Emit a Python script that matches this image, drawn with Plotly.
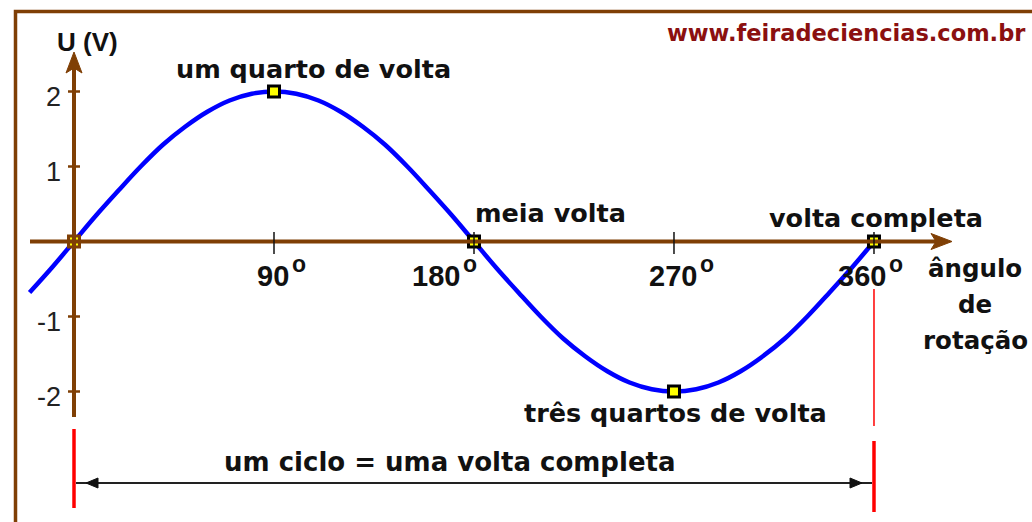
import plotly.graph_objects as go

# ---- data ----
angles = [-20, -10, 0, 10, 20, 30, 40, 50, 60, 70, 80, 90, 100, 110, 120, 130, 140, 150, 160,
          170, 180, 190, 200, 210, 220, 230, 240, 250, 260, 270, 280, 290, 300, 310, 320, 330,
          340, 350, 360]
voltage = [-0.68, -0.35, 0.0, 0.35, 0.68, 1.0, 1.29, 1.53, 1.73, 1.88, 1.97, 2.0, 1.97, 1.88,
           1.73, 1.53, 1.29, 1.0, 0.68, 0.35, 0.0, -0.35, -0.68, -1.0, -1.29, -1.53, -1.73,
           -1.88, -1.97, -2.0, -1.97, -1.88, -1.73, -1.53, -1.29, -1.0, -0.68, -0.35, 0.0]
key_angles = [0, 90, 180, 270, 360]
key_volts = [0, 2, 0, -2, 0]
key_labels = ["", "um quarto de volta", "meia volta", "três quartos de volta", "volta completa"]
x_ticks = [90, 180, 270, 360]
x_tick_labels = ["90", "180", "270", "360"]
y_ticks = [2, 1, -1, -2]
y_tick_labels = ["2", "1", "-1", "-2"]

W, H = 1032, 522
X0PX, PXDEG = 74.0, 2.2222
Y0PX, PXV = 241.5, 75.0


def X(px):
    return (px - X0PX) / PXDEG


def Y(py):
    return (Y0PX - py) / PXV


BROWN = "#7f3f05"
BLUE = "#0000ff"
RED = "#ff0000"
TXT = "#111111"
TFONT = "DejaVu Sans"
NFONT = "Liberation Sans"

fig = go.Figure()

# sine curve
fig.add_trace(go.Scatter(x=angles, y=voltage, mode="lines", line=dict(color=BLUE, width=4.5, shape="spline"),
                         hoverinfo="skip", showlegend=False))
# key point markers
fig.add_trace(go.Scatter(x=key_angles, y=key_volts, mode="markers",
                         marker=dict(symbol="square", size=11, color="#ffff00",
                                     line=dict(color=["#7f3f05", "#000000", "#000000", "#000000", "#000000"], width=3)),
                         hoverinfo="skip", showlegend=False))

shapes = []
# border
shapes.append(dict(type="rect", xref="x", yref="y", x0=X(15.5), x1=X(1050), y0=Y(11.5), y1=Y(540),
                   line=dict(color=BROWN, width=3.5)))
# x axis
shapes.append(dict(type="line", xref="x", yref="y", x0=X(30), x1=X(940), y0=0, y1=0,
                   line=dict(color=BROWN, width=4)))
shapes.append(dict(type="path", xref="x", yref="y",
                   path=f"M {X(952)},{Y(241.5)} L {X(931)},{Y(233.5)} L {X(936)},{Y(241.5)} L {X(931)},{Y(249.5)} Z",
                   fillcolor=BROWN, line=dict(color=BROWN, width=1)))
# y axis
shapes.append(dict(type="line", xref="x", yref="y", x0=0, x1=0, y0=Y(417), y1=Y(64),
                   line=dict(color=BROWN, width=4)))
shapes.append(dict(type="path", xref="x", yref="y",
                   path=f"M {X(74)},{Y(52)} L {X(66)},{Y(73)} L {X(74)},{Y(68)} L {X(82)},{Y(73)} Z",
                   fillcolor=BROWN, line=dict(color=BROWN, width=1)))
# y ticks
for v in y_ticks:
    shapes.append(dict(type="line", xref="x", yref="y", x0=X(68), x1=X(80), y0=v, y1=v,
                       line=dict(color=BROWN, width=2.5)))
# x ticks
for a in x_ticks:
    shapes.append(dict(type="line", xref="x", yref="y", x0=a, x1=a, y0=Y(232), y1=Y(254),
                       line=dict(color="#111111", width=1.5)))
# red cycle markers
shapes.append(dict(type="line", xref="x", yref="y", x0=0, x1=0, y0=Y(429), y1=Y(508),
                   line=dict(color=RED, width=3.5)))
shapes.append(dict(type="line", xref="x", yref="y", x0=360, x1=360, y0=Y(441), y1=Y(512),
                   line=dict(color=RED, width=3.5)))
shapes.append(dict(type="line", xref="x", yref="y", x0=360, x1=360, y0=Y(289), y1=Y(426),
                   line=dict(color=RED, width=1.5)))
# black double arrow
shapes.append(dict(type="line", xref="x", yref="y", x0=X(76), x1=X(872), y0=Y(483), y1=Y(483),
                   line=dict(color="#222222", width=2)))
shapes.append(dict(type="path", xref="x", yref="y",
                   path=f"M {X(86)},{Y(483)} L {X(98)},{Y(478)} L {X(98)},{Y(488)} Z",
                   fillcolor="#111111", line=dict(color="#111111", width=1)))
shapes.append(dict(type="path", xref="x", yref="y",
                   path=f"M {X(862)},{Y(483)} L {X(850)},{Y(478)} L {X(850)},{Y(488)} Z",
                   fillcolor="#111111", line=dict(color="#111111", width=1)))

ann = []


def add_text(text, px, py, size, family=TFONT, color=TXT, xanchor="center", bold=True):
    t = f"<b>{text}</b>" if bold else text
    ann.append(dict(text=t, x=X(px), y=Y(py), xref="x", yref="y", showarrow=False,
                    xanchor=xanchor, yanchor="middle",
                    font=dict(family=family, size=size, color=color)))


# key point labels
label_pos = {1: (313, 69), 2: (550, 213), 3: (675, 413), 4: (876, 218)}
for i, lab in enumerate(key_labels):
    if lab:
        px, py = label_pos[i]
        add_text(lab, px, py, 25.5)

# x tick labels (number + superscript o)
num_right = {90: 291, 180: 462, 270: 699, 360: 888}
for a, lab in zip(x_ticks, x_tick_labels):
    r = num_right[a]
    ann.append(dict(text=f"<b>{lab}</b>", x=X(r), y=Y(276), xref="x", yref="y", showarrow=False,
                    xanchor="right", yanchor="middle", font=dict(family=NFONT, size=29, color=TXT)))
    ann.append(dict(text="<b>o</b>", x=X(r - 1), y=Y(264), xref="x", yref="y", showarrow=False,
                    xanchor="left", yanchor="middle", font=dict(family=NFONT, size=23, color=TXT)))

# y tick labels
for v, lab in zip(y_ticks, y_tick_labels):
    ann.append(dict(text=lab, x=X(63), y=v, yshift=-5, xref="x", yref="y", showarrow=False,
                    xanchor="right", yanchor="middle", font=dict(family=NFONT, size=27, color="#222222")))

# axis titles
add_text("U (V)", 87, 42, 26, family=NFONT)
add_text("ângulo", 975, 268, 24.5)
add_text("de", 975, 304, 24.5)
add_text("rotação", 975, 340, 24.5)

# other texts
add_text("um ciclo = uma volta completa", 450, 462, 26)
add_text("www.feiradeciencias.com.br", 665, 33, 22.5, color="#8b1010", xanchor="left")

fig.update_layout(
    width=W, height=H, autosize=False,
    margin=dict(l=0, r=0, t=0, b=0),
    paper_bgcolor="white", plot_bgcolor="white",
    xaxis=dict(range=[X(0), X(W)], visible=False, fixedrange=True),
    yaxis=dict(range=[Y(H), Y(0)], visible=False, fixedrange=True),
    shapes=shapes, annotations=ann, showlegend=False,
)

fig.write_html("out.html", config={"staticPlot": True},
               post_script="document.body.style.margin='0';document.body.style.overflow='hidden';")
